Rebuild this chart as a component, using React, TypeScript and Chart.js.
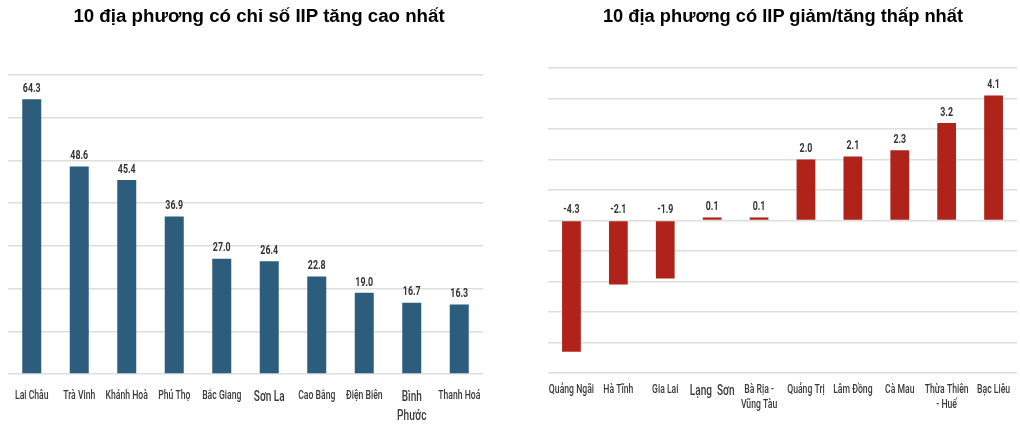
import React, { useEffect, useRef } from "react";
import { Chart, registerables } from "chart.js";

Chart.register(...registerables);

const leftTitle = "10 địa phương có chỉ số IIP tăng cao nhất";
const leftCategories: (string | string[])[] = ["Lai Châu", "Trà Vinh", "Khánh Hoà", "Phú Thọ", "Bắc Giang", "Sơn La", "Cao Bằng", "Điện Biên", ["Bình", "Phước"], "Thanh Hoá"];
const leftValues = [64.3, 48.6, 45.4, 36.9, 27.0, 26.4, 22.8, 19.0, 16.7, 16.3];
const leftLargeLabels = [5, 8];

const rightTitle = "10 địa phương có IIP giảm/tăng thấp nhất";
const rightCategories: (string | string[])[] = ["Quảng Ngãi", "Hà Tĩnh", "Gia Lai", "Lạng  Sơn", ["Bà Rịa -", "Vũng Tàu"], "Quảng Trị", "Lâm Đồng", "Cà Mau", ["Thừa Thiên", "- Huế"], "Bạc Liêu"];
const rightValues = [-4.3, -2.1, -1.9, 0.1, 0.1, 2.0, 2.1, 2.3, 3.2, 4.1];
const rightLargeLabels = [3];

const COND = "Roboto, 'Noto Sans', sans-serif";
const WIDE = "'Liberation Sans', Arial, sans-serif";
const SQUEEZE = 0.72;

function drawSqueezed(ctx: CanvasRenderingContext2D, text: string, x: number, y: number, sx = SQUEEZE) {
  ctx.save();
  ctx.translate(x, y);
  ctx.scale(sx, 1);
  ctx.fillText(text, 0, 0);
  ctx.restore();
}

const valueLabels = {
  id: "valueLabels",
  afterDatasetsDraw(chart: any) {
    const ctx = chart.ctx;
    const yScale = chart.scales.y;
    const zero = yScale.getPixelForValue(0);
    const meta = chart.getDatasetMeta(0);
    const data = chart.data.datasets[0].data as number[];
    ctx.save();
    ctx.font = `bold 13px ${COND}`;
    ctx.fillStyle = "#333333";
    ctx.textAlign = "center";
    ctx.textBaseline = "bottom";
    meta.data.forEach((bar: any, i: number) => {
      const v = data[i];
      const top = v >= 0 ? bar.y : zero;
      drawSqueezed(ctx, v.toFixed(1), bar.x, top - 4, 0.68);
    });
    ctx.restore();
  },
};

type Props = {
  left: number;
  title: string;
  titleCenter: number;
  titleSize: number;
  categories: (string | string[])[];
  values: number[];
  large: number[];
  color: string;
  min: number;
  max: number;
  step: number;
  pad: { top: number; left: number; right: number };
  axisHeight: number;
  labelOffset: number;
  lineGap: number;
  largeLineGap: number;
};

function BarPanel(p: Props) {
  const ref = useRef<HTMLCanvasElement | null>(null);
  useEffect(() => {
    if (!ref.current) return;
    const xLabels = {
      id: "xLabels",
      afterDraw(chart: any) {
        const ctx = chart.ctx;
        const xs = chart.scales.x;
        const bottom = chart.chartArea.bottom;
        const labels = chart.data.labels as (string | string[])[];
        ctx.save();
        ctx.fillStyle = "#3a3a3a";
        ctx.textAlign = "center";
        ctx.textBaseline = "middle";
        labels.forEach((lab, i) => {
          const big = p.large.includes(i);
          ctx.font = big ? `500 14px ${COND}` : `500 12px ${COND}`;
          const lines = Array.isArray(lab) ? lab : [lab];
          const gap = big ? p.largeLineGap : p.lineGap;
          const x = xs.getPixelForValue(i);
          lines.forEach((ln, j) => {
            drawSqueezed(ctx, ln, x, bottom + p.labelOffset + (big ? 1 : 0) + j * gap);
          });
        });
        ctx.restore();
      },
    };
    const chart = new Chart(ref.current, {
      type: "bar",
      data: {
        labels: p.categories as any,
        datasets: [
          {
            data: p.values,
            backgroundColor: p.color,
            borderWidth: 0,
            categoryPercentage: 1,
            barPercentage: 0.4,
          },
        ],
      },
      options: {
        responsive: false,
        animation: false,
        devicePixelRatio: 1,
        layout: { padding: { top: p.pad.top, left: p.pad.left, right: p.pad.right, bottom: 0 } },
        plugins: { legend: { display: false }, tooltip: { enabled: false }, title: { display: false } },
        scales: {
          x: {
            grid: { display: false },
            border: { display: false },
            ticks: { display: false, autoSkip: false },
            afterFit: (s: any) => {
              s.height = p.axisHeight;
            },
          },
          y: {
            min: p.min,
            max: p.max,
            ticks: { display: false, stepSize: p.step },
            grid: { color: "#dedede", lineWidth: 1.5, drawTicks: false },
            border: { display: false },
            afterFit: (s: any) => {
              s.width = 0;
            },
          },
        },
      },
      plugins: [valueLabels, xLabels],
    });
    return () => chart.destroy();
  }, []);
  return (
    <div style={{ position: "absolute", left: p.left, top: 0, width: 510, height: 428 }}>
      <div
        style={{
          position: "absolute",
          top: 5,
          left: p.titleCenter - 250,
          width: 500,
          textAlign: "center",
          font: `bold ${p.titleSize}px ${WIDE}`,
          color: "#000",
          whiteSpace: "nowrap",
        }}
      >
        {p.title}
      </div>
      <canvas ref={ref} width={510} height={428} style={{ width: 510, height: 428, display: "block" }} />
    </div>
  );
}

export default function App() {
  return (
    <div style={{ position: "absolute", left: 0, top: 0, width: 1020, height: 428, background: "#fff" }}>
      <BarPanel
        left={0}
        title={leftTitle}
        titleCenter={259}
        titleSize={18.7}
        categories={leftCategories}
        values={leftValues}
        large={leftLargeLabels}
        color="#2d5d7c"
        min={0}
        max={70}
        step={10}
        pad={{ top: 75, left: 8, right: 27 }}
        axisHeight={54}
        labelOffset={22}
        lineGap={15}
        largeLineGap={19}
      />
      <BarPanel
        left={510}
        title={rightTitle}
        titleCenter={273}
        titleSize={18.3}
        categories={rightCategories}
        values={rightValues}
        large={rightLargeLabels}
        color="#b0231a"
        min={-5}
        max={5}
        step={1}
        pad={{ top: 68, left: 38, right: 3 }}
        axisHeight={55}
        labelOffset={17}
        lineGap={15}
        largeLineGap={19}
      />
    </div>
  );
}
